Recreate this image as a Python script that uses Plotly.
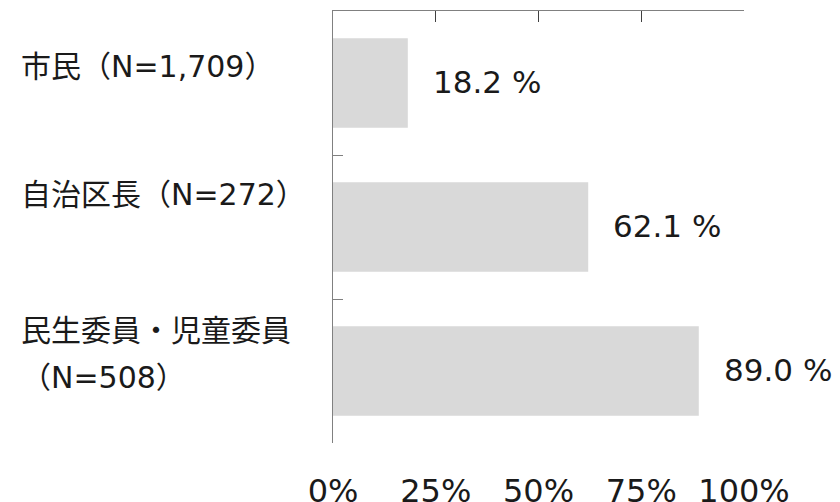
import plotly.graph_objects as go

categories = ["市民（N=1,709）", "自治区長（N=272）", "民生委員・児童委員<br>（N=508）"]
values = [18.2, 62.1, 89.0]
tick_vals = [0, 25, 50, 75, 100]
tick_text = ["0%", "25%", "50%", "75%", "100%"]
cat_keys = ["市民", "自治区長", "民生委員・児童委員"]

FONT = "DejaVu Sans, Noto Sans CJK JP, sans-serif"
TXT = "#1a1a1a"

fig = go.Figure()
fig.add_trace(go.Bar(
    x=values, y=cat_keys, orientation="h",
    marker=dict(color="#d9d9d9", line=dict(width=0)),
    hoverinfo="skip", showlegend=False,
))
fig.add_trace(go.Scatter(
    x=values, y=cat_keys, xaxis="x2", mode="markers",
    marker=dict(opacity=0), hoverinfo="skip", showlegend=False,
))

# value labels
for c, v in zip(cat_keys, values):
    fig.add_annotation(
        x=v, y=c, xref="x", yref="y", text=f"{v:.1f} %",
        xanchor="left", yanchor="middle", xshift=23, yshift=1, showarrow=False,
        font=dict(family=FONT, size=31, color=TXT),
    )

# category labels (left aligned), multi-line labels split into separate lines
yshifts = [17, 33, 17]
LINE_GAP = 47
for c, lab, ys in zip(cat_keys, categories, yshifts):
    lines = lab.split("<br>")
    n = len(lines)
    for i, ln in enumerate(lines):
        off = ys + ((n - 1) / 2 - i) * LINE_GAP
        fig.add_annotation(
            x=-0.764, y=c, xref="paper", yref="y", text=ln,
            xanchor="left", yanchor="middle", align="left", yshift=off,
            showarrow=False,
            font=dict(family=FONT, size=30, color=TXT),
        )

fig.update_layout(
    width=840, height=502,
    margin=dict(l=333, r=96, t=11, b=59, autoexpand=False),
    paper_bgcolor="white", plot_bgcolor="white",
    bargap=0.38,
    xaxis=dict(
        range=[0, 100], side="top", showline=True, linecolor="#808080", linewidth=1,
        ticks="inside", ticklen=11, tickcolor="#404040", tickwidth=1,
        tickvals=tick_vals, showticklabels=False, showgrid=False, zeroline=False,
        automargin=False,
    ),
    xaxis2=dict(
        range=[0, 100], overlaying="x", side="bottom", anchor="y",
        showline=False, ticks="outside", ticklen=20, tickcolor="rgba(0,0,0,0)",
        tickvals=tick_vals, ticktext=tick_text, showgrid=False, zeroline=False,
        tickfont=dict(family=FONT, size=32, color=TXT), automargin=False,
    ),
    yaxis=dict(
        type="category", autorange="reversed", showline=True, linecolor="#808080",
        linewidth=1, ticks="inside", tickson="boundaries", ticklen=10,
        tickcolor="#808080", showticklabels=False, showgrid=False, zeroline=False,
        automargin=False,
    ),
)

fig.write_html(
    "out.html",
    config={"displayModeBar": False, "staticPlot": True},
    post_script="document.body.style.margin='0';document.body.style.overflow='hidden';",
)
